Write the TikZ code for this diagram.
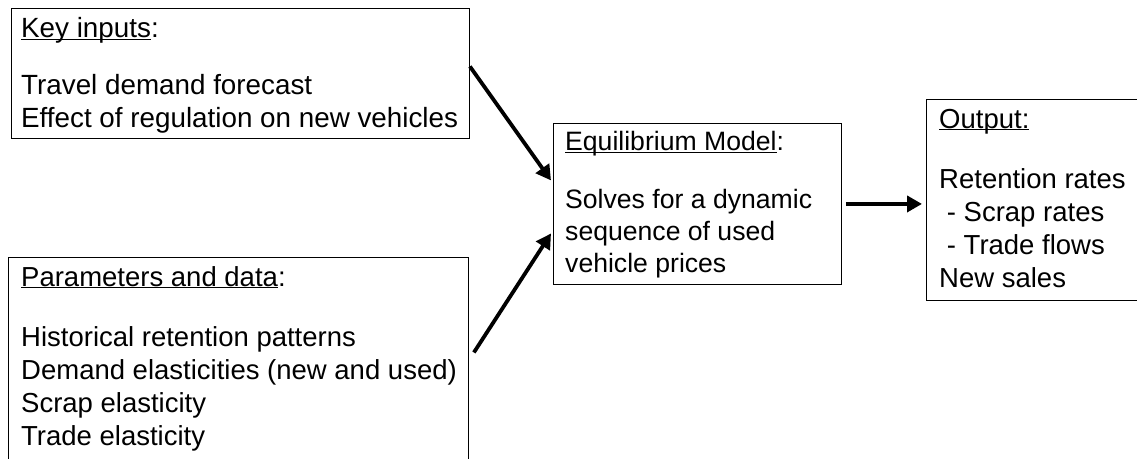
\documentclass[tikz,border=0pt]{standalone}
\usepackage{fontspec}
\setmainfont{Liberation Sans}
\usetikzlibrary{arrows.meta}
\newcommand{\ulhead}[1]{\vphantom{Kd}\underline{\smash{#1}}}

\begin{document}
\begin{tikzpicture}[x=1pt, y=-1pt,
    box/.style={draw, line width=0.9pt, anchor=north west, inner sep=0pt},
    txt/.style={anchor=north west, align=left, inner sep=0pt, font=\fontsize{27.5}{33}\selectfont},
    flow/.style={line width=3.8pt, -{Triangle[length=15pt, width=16pt]}}]
\useasboundingbox (0,0) rectangle (1137,458);
\clip (0,0) rectangle (1137,458);
% boxes (params and output run off the page)
\node[box, minimum width=458pt, minimum height=130pt] (keyin) at (11,8) {};
\node[box, minimum width=460pt, minimum height=230pt] (params) at (8,257) {};
\node[box, minimum width=288pt, minimum height=161pt] (equil) at (553,123) {};
\node[box, minimum width=230pt, minimum height=201pt] (output) at (926,99) {};
% texts
\node[txt, font=\fontsize{27.8}{33}\selectfont] (keyin-txt) at ([xshift=10pt, yshift=-9pt]keyin.north west)
    {\ulhead{Key inputs}:\\[24pt] Travel demand forecast\\ Effect of regulation on new vehicles};
\node[txt] (params-txt) at ([xshift=13pt, yshift=-9pt]params.north west)
    {\ulhead{Parameters and data}:\\[27pt] Historical retention patterns\\ Demand elasticities (new and used)\\ Scrap elasticity\\ Trade elasticity};
\node[txt, font=\fontsize{26.6}{32}\selectfont] (equil-txt) at ([xshift=12pt, yshift=-8pt]equil.north west)
    {\ulhead{Equilibrium Model}:\\[26pt] Solves for a dynamic\\ sequence of used\\ vehicle prices};
\node[txt] (output-txt) at ([xshift=13pt, yshift=-9pt]output.north west)
    {\ulhead{Output:}\\[27pt] Retention rates\\ \hspace*{0.28em}- Scrap rates\\ \hspace*{0.28em}- Trade flows\\ New sales};
% arrows
\draw[flow] ([yshift=7pt]keyin.east) -- ([xshift=-2pt, yshift=23.5pt]equil.west);
\draw[flow] ([xshift=5pt, yshift=20pt]params.east) -- ([xshift=-2pt, yshift=-29.5pt]equil.west);
\draw[flow] ([xshift=4pt]equil.east) -- ([xshift=-4pt]equil.east -| output.west);
\end{tikzpicture}
\end{document}
